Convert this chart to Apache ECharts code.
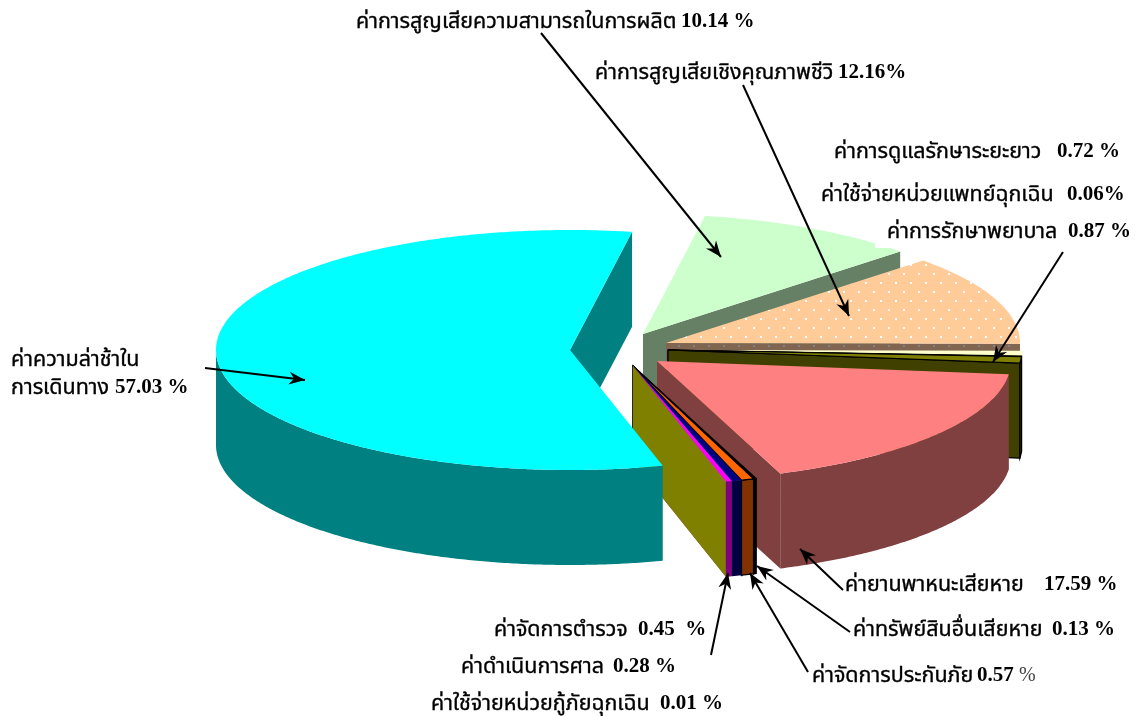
<!DOCTYPE html>
<html>
<head>
<meta charset="utf-8">
<title>chart</title>
<style>
  html, body { margin: 0; padding: 0; background: #fff; }
  #chart { width: 1138px; height: 716px; }
</style>
</head>
<body>
<div id="chart"></div>
<script src="https://cdn.jsdelivr.net/npm/echarts@6/dist/echarts.min.js"></script>
<script>
  // slices, clockwise starting behind the cyan one
  let values = [10.14, 12.16, 0.72, 0.06, 0.87, 17.59, 0.13, 0.57, 0.45, 0.28, 0.01, 57.03]
  let topColors = ['#ccffcc', '#ffcc99', '#ffffcc', '#800000', '#808000', '#ff8080', '#000000', '#ff6600', '#000080', '#ff00ff', '#ffff00', '#00ffff']
  let sideColors = ['#668066', '#806650', '#808066', '#400000', '#404000', '#804040', '#000000', '#803300', '#000040', '#800080', '#808000', '#008080']
  let outlined = [0, 0, 0, 1, 1, 0, 1, 1, 0, 0, 0, 0]
  // where each slice's point sits after being pulled out
  let apexX = [643, 666, 668, 668, 668, 657, 633, 633, 633, 633, 633, 570]
  let apexY = [334, 343, 350, 350, 350, 361, 366, 366, 366, 366, 366, 350]

  let labels = [
    'ค่าการสูญเสียความสามารถในการผลิต',
    'ค่าการสูญเสียเชิงคุณภาพชีวิ',
    'ค่าการดูแลรักษาระยะยาว',
    'ค่าใช้จ่ายหน่วยแพทย์ฉุกเฉิน',
    'ค่าการรักษาพยาบาล',
    'ค่าความล่าช้าใน',
    'การเดินทาง',
    'ค่ายานพาหนะเสียหาย',
    'ค่าทรัพย์สินอื่นเสียหาย',
    'ค่าจัดการประกันภัย',
    'ค่าจัดการตำรวจ',
    'ค่าดำเนินการศาล',
    'ค่าใช้จ่ายหน่วยกู้ภัยฉุกเฉิน'
  ]
  let amounts = ['10.14 %', '12.16%', '0.72 %', '0.06%', '0.87 %', '', '57.03 %', '17.59 %', '0.13 %', '0.57 %', '0.45  %', '0.28 %', '0.01 %']
  let labelX = [356, 595, 834, 821, 887, 11, 11, 845, 853, 812, 494, 461, 431]
  let labelY = [22, 73, 152, 195, 232, 360, 388, 585, 630, 676, 630, 667, 704]
  let amountX = [681, 838, 1057, 1067, 1068, 0, 115, 1044, 1052, 977, 638, 613, 660]
  let thinPercent = 9

  // arrow lines: from x, from y, tip x, tip y
  let arrows = [
    [541, 33, 721, 257],
    [743, 85, 849, 316],
    [1063, 252, 993, 362],
    [205, 368, 305, 380],
    [843, 590, 800, 549],
    [850, 632, 757, 566],
    [808, 672, 750, 573],
    [711, 655, 728, 573]
  ]

  let startAngle = 10.1
  let radiusX = 354
  let radiusY = 120
  let depth = 95
  // back to front, cyan has to cover the small slices
  let drawOrder = [0, 1, 2, 3, 4, 5, 6, 7, 8, 9, 10, 11]

  let total = values.reduce((a, b) => a + b, 0)
  let starts = []
  values.reduce((sum, v, i) => {
    starts[i] = startAngle + sum / total * 360
    return sum + v
  }, 0)

  function dotPattern(bg, dot) {
    let c = document.createElement('canvas')
    c.width = 30
    c.height = 18
    let ctx = c.getContext('2d')
    ctx.fillStyle = bg
    ctx.fillRect(0, 0, 30, 18)
    ctx.fillStyle = dot
    ctx.fillRect(3, 3, 2, 2)
    ctx.fillRect(18, 3, 2, 2)
    ctx.fillRect(10, 12, 2, 2)
    ctx.fillRect(25, 12, 2, 2)
    return { image: c, repeat: 'repeat' }
  }

  function onArc(i, deg) {
    let r = deg * Math.PI / 180
    return [apexX[i] + radiusX * Math.sin(r), apexY[i] - radiusY * Math.cos(r)]
  }

  function arcPoints(i, from, to) {
    let pts = []
    let n = Math.max(2, Math.ceil(Math.abs(to - from) * 2))
    for (let k = 0; k <= n; k++) {
      pts.push(onArc(i, from + (to - from) * k / n))
    }
    return pts
  }

  function down(pts) {
    return pts.map(p => [p[0], p[1] + depth]).reverse()
  }

  function renderSlice(params, api) {
    let i = api.value(0)
    let a = starts[i]
    let b = a + api.value(1) / total * 360
    let apex = [apexX[i], apexY[i]]
    let side = sideColors[i]
    let top = topColors[i]
    if (i === 1) {
      side = dotPattern('#806650', '#7f8088')
      top = dotPattern('#ffcc99', '#ffffff')
    }
    let line = outlined[i] ? { stroke: '#000', lineWidth: 1.2 } : {}
    let face = (pts, fill) => ({
      type: 'polygon',
      shape: { points: pts },
      style: Object.assign({ fill: fill }, line)
    })
    let kids = []
    // a cut face only shows when it turns towards the viewer
    if (Math.sin(a * Math.PI / 180) < 0) {
      let edgeA = [apex, onArc(i, a)]
      kids.push(face(edgeA.concat(down(edgeA)), sideColors[i]))
    }
    if (Math.sin(b * Math.PI / 180) > 0) {
      let edgeB = [apex, onArc(i, b)]
      kids.push(face(edgeB.concat(down(edgeB)), side))
    }
    // only the near half of the rim shows
    let rimFrom = Math.max(a, 90)
    let rimTo = Math.min(b, 270)
    if (rimTo > rimFrom) {
      let rim = arcPoints(i, rimFrom, rimTo)
      kids.push(face(rim.concat(down(rim)), sideColors[i]))
    }
    kids.push(face([apex].concat(arcPoints(i, a, b)), top))
    return { type: 'group', children: kids }
  }

  function arrowHead(a) {
    let ang = Math.atan2(a[3] - a[1], a[2] - a[0])
    let at = (back, off) => [
      a[2] - back * Math.cos(ang) - off * Math.sin(ang),
      a[3] - back * Math.sin(ang) + off * Math.cos(ang)
    ]
    return [[a[2], a[3]], at(16, 6.5), at(11, 0), at(16, -6.5)]
  }

  let graphics = [
    { type: 'rect', z: 10, shape: { x: 875, y: 212, width: 260, height: 36 }, style: { fill: '#fff' } }
  ]
  arrows.forEach(a => {
    graphics.push({
      type: 'line',
      z: 20,
      shape: { x1: a[0], y1: a[1], x2: a[2], y2: a[3] },
      style: { stroke: '#000', lineWidth: 2 }
    })
    graphics.push({
      type: 'polygon',
      z: 21,
      shape: { points: arrowHead(a) },
      style: { fill: '#000' }
    })
  })
  labels.forEach((t, i) => {
    graphics.push({
      type: 'text',
      z: 30,
      x: labelX[i],
      y: labelY[i],
      style: {
        text: t,
        fill: '#000',
        stroke: '#000',
        lineWidth: 0.35,
        fontFamily: '"Liberation Serif", "Noto Sans Thai", "Noto Sans", serif',
        fontSize: 21.5,
        fontWeight: 'normal',
        verticalAlign: 'middle'
      }
    })
    if (!amounts[i]) return
    let isThin = i === thinPercent
    graphics.push({
      type: 'text',
      z: 30,
      x: amountX[i],
      y: labelY[i],
      style: {
        text: isThin ? '{n|' + amounts[i].replace('%', '') + '}{p|%}' : '{n|' + amounts[i] + '}',
        verticalAlign: 'middle',
        rich: {
          n: { fill: '#000', fontFamily: 'Liberation Serif', fontWeight: 'bold', fontSize: 21 },
          p: { fill: '#444', fontFamily: 'Liberation Serif', fontWeight: 'normal', fontSize: 20 }
        }
      }
    })
  })

  let chart = echarts.init(document.getElementById('chart'), null, { renderer: 'canvas' })
  chart.setOption({
    animation: false,
    backgroundColor: '#fff',
    series: [
      {
        type: 'custom',
        coordinateSystem: 'none',
        silent: true,
        renderItem: renderSlice,
        data: drawOrder.map(i => [i, values[i]])
      }
    ],
    graphic: graphics
  })
</script>
</body>
</html>
